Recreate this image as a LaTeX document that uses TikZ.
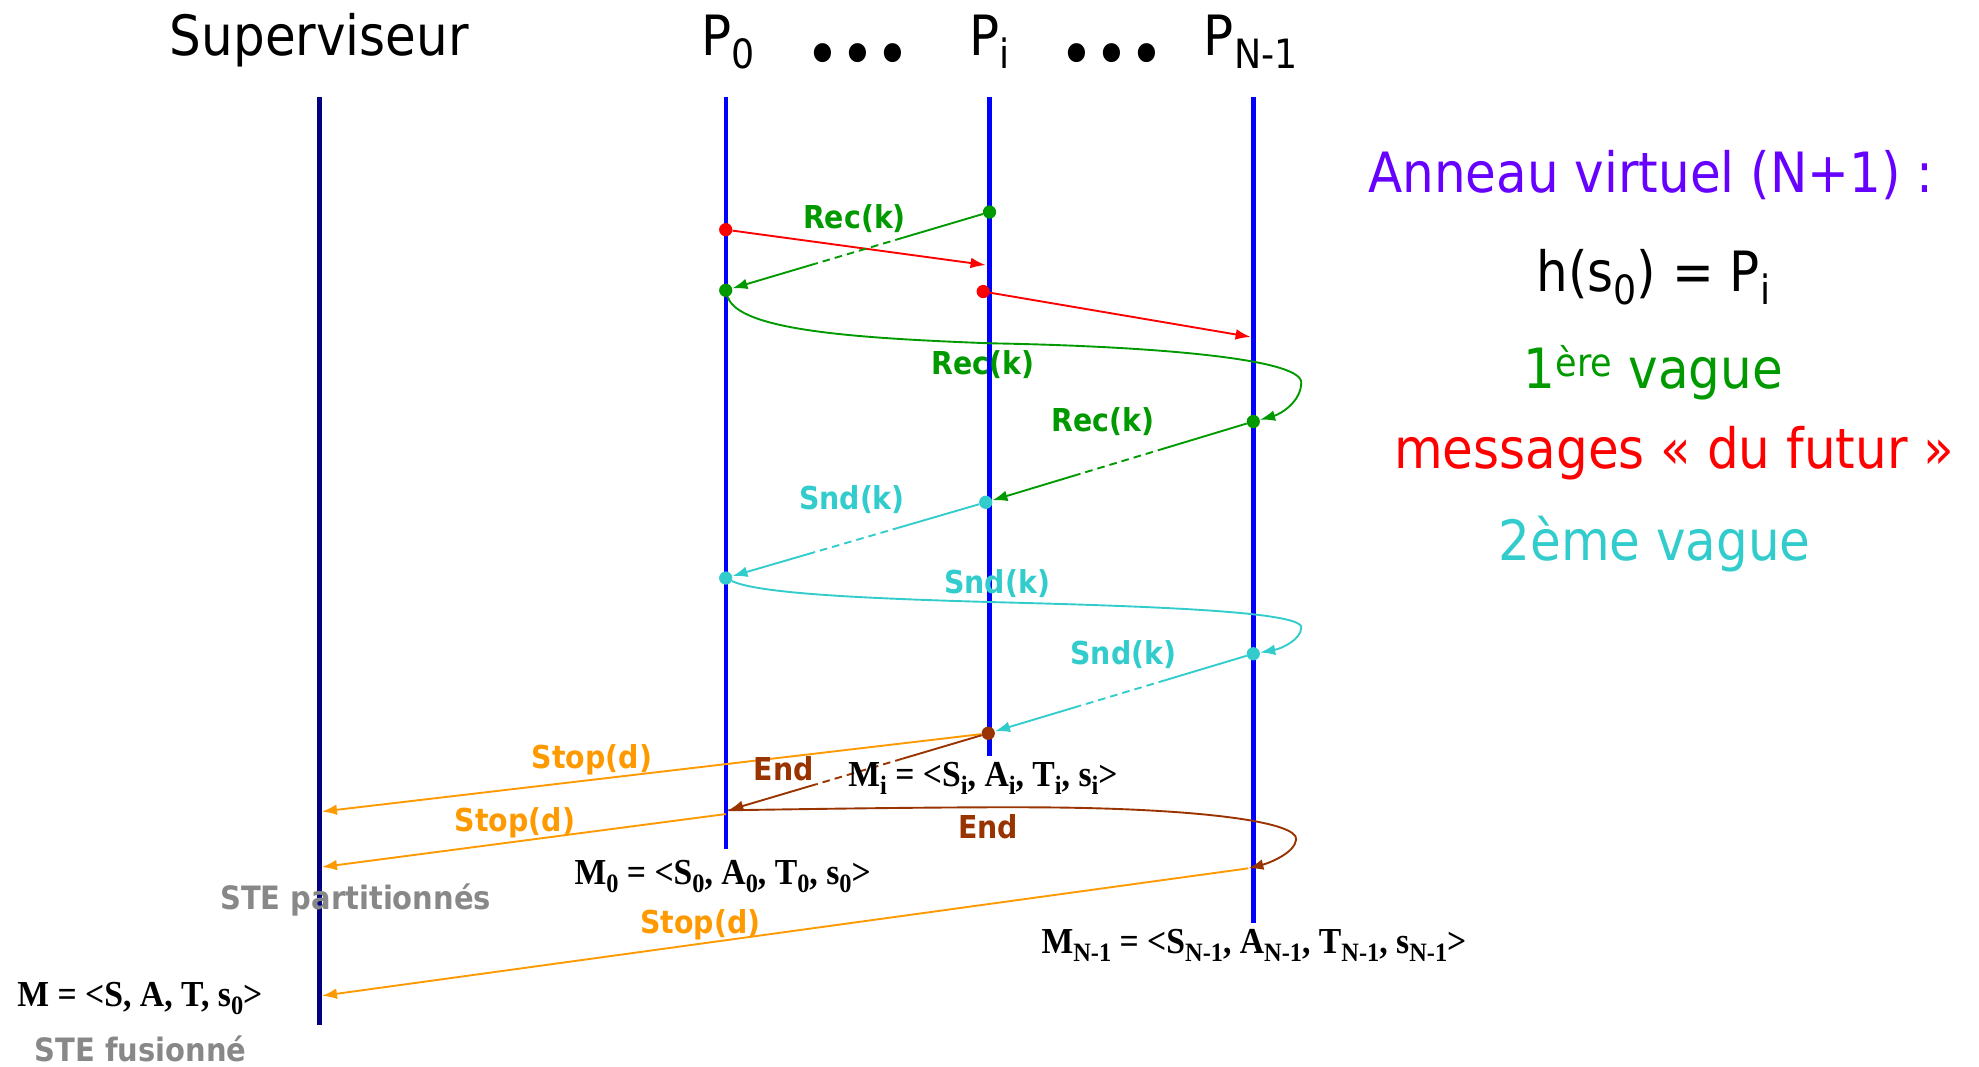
\documentclass[tikz,border=0pt]{standalone}
\usepackage{fontspec}
\setmainfont{DejaVu Sans}[FakeStretch=0.9]
\newfontfamily\serifbf{Liberation Serif}[FakeStretch=0.92]
\usetikzlibrary{arrows.meta,calc}
\definecolor{gcol}{HTML}{009900}
\definecolor{rcol}{HTML}{FF0000}
\definecolor{ccol}{HTML}{33CCCC}
\definecolor{ocol}{HTML}{FF9900}
\definecolor{bcol}{HTML}{993300}
\definecolor{pcol}{HTML}{6600FF}
\definecolor{navy}{HTML}{000080}
\definecolor{lblue}{HTML}{0000FF}
\definecolor{greytxt}{HTML}{888888}
\newcommand\tsub[1]{\raisebox{-0.24em}{\fontsize{32}{32}\selectfont #1}}
\newcommand\fsub[1]{\raisebox{-0.22em}{\fontsize{21}{21}\selectfont #1}}
\tikzset{
 life/.style={line width=3.5pt, draw=lblue},
 evdot/.style={circle, fill=#1, inner sep=0pt, minimum size=10.5pt},
 msg/.style={line width=1.5pt, draw=#1},
 arrowend/.style={-{Latex[length=12pt,width=8.5pt]}},
 lab/.style={font=\bfseries\fontsize{25}{28}\selectfont, text=#1, inner sep=0pt},
 ttl/.style={font=\fontsize{44}{50}\selectfont, inner sep=0pt, anchor=base},
 mform/.style={font=\serifbf\bfseries\fontsize{29}{32}\selectfont, inner sep=0pt, anchor=base west},
 gtxt/.style={font=\bfseries\fontsize{25.5}{30}\selectfont, text=greytxt, inner sep=0pt, anchor=base west},
 dsh/.style={dash pattern=on 6pt off 4pt},
 dotsrow/.style={font=\fontsize{52}{52}\selectfont, inner sep=0pt, anchor=center},
}
\newcommand\splitmsg[3]{%
 \draw[msg=#1] (#2) -- ($(#2)!0.33!(#3)$);
 \draw[msg=#1,dsh] ($(#2)!0.33!(#3)$) -- ($(#2)!0.66!(#3)$);
 \draw[msg=#1,arrowend] ($(#2)!0.66!(#3)$) -- (#3);}
\begin{document}
\begin{tikzpicture}[x=1pt,y=-1pt]
\useasboundingbox (0,0) rectangle (1568,845);
% titles
\node[ttl] (tsup) at (253,43.6) {Superviseur};
\node[ttl] (tp0) at (577,43.6) {P\tsub{0}};
\node[dotsrow] (dots1) at (680,48) {•••};
\node[ttl] (tpi) at (784,43.6) {P\tsub{i}};
\node[dotsrow] (dots2) at (881,48) {•••};
\node[ttl] (tpn) at (991,43.6) {P\tsub{N-1}};
% lifelines
\coordinate (suptop) at (253,77); \coordinate (supbot) at (253,812);
\coordinate (p0top) at (575,77); \coordinate (p0bot) at (575,673);
\coordinate (pitop) at (784,77); \coordinate (pibot) at (784,599);
\coordinate (pntop) at (993,77); \coordinate (pnbot) at (993,731);
\draw[life,draw=navy] (suptop) -- (supbot);
\draw[life] (p0top) -- (p0bot);
\draw[life] (pitop) -- (pibot);
\draw[life] (pntop) -- (pnbot);
% events
\node[evdot=gcol] (g1) at (784,168) {};
\node[evdot=rcol] (r1) at (575,182) {};
\coordinate (r1e) at (781,210);
\node[evdot=gcol] (g2) at (575,230) {};
\node[evdot=rcol] (r2) at (779,231) {};
\coordinate (r2e) at (991,267);
\node[evdot=gcol] (g3) at (993,334) {};
\node[evdot=ccol] (c1) at (781,398) {};
\node[evdot=ccol] (c2) at (575,458) {};
\node[evdot=ccol] (c3) at (993,518) {};
\node[evdot=bcol] (b1) at (783,581) {};
\coordinate (sup1) at (255,643);
\coordinate (p0e) at (577,642);
\coordinate (p0s) at (575,645);
\coordinate (sup2) at (255,687);
\coordinate (pne) at (989,688);
\coordinate (sup3) at (255,789);
% messages
\draw[msg=rcol,arrowend] (r1) -- (r1e);
\draw[msg=rcol,arrowend] (r2) -- (r2e);
\splitmsg{gcol}{g1}{g2}
\draw[msg=gcol,arrowend] (g2) .. controls (585,262) and (680,268) .. (784,272)
  .. controls (900,274) and (1031,283) .. (1031,303)
  .. controls (1031,318) and (1015,328) .. (g3);
\splitmsg{gcol}{g3}{c1}
\splitmsg{ccol}{c1}{c2}
\draw[msg=ccol,arrowend] (c2) .. controls (600,470) and (680,474) .. (784,477)
  .. controls (900,480) and (1031,484) .. (1031,497)
  .. controls (1031,507) and (1015,514) .. (c3);
\splitmsg{ccol}{c3}{b1}
\draw[msg=ocol,arrowend] (b1) -- (sup1);
\splitmsg{bcol}{b1}{p0e}
\draw[msg=bcol,arrowend] (p0e) .. controls (700,640) and (800,639) .. (850,640)
  .. controls (960,642) and (1028,652) .. (1027,665)
  .. controls (1026,676) and (1005,684) .. (pne);
\draw[msg=ocol,arrowend] (p0s) -- (sup2);
\draw[msg=ocol,arrowend] (pne) -- (sup3);
% labels
\node[lab=gcol] (lrec1) at (677,173) {Rec(k)};
\node[lab=gcol] (lrec2) at (779,289) {Rec(k)};
\node[lab=gcol] (lrec3) at (874,334) {Rec(k)};
\node[lab=ccol] (lsnd1) at (675,396) {Snd(k)};
\node[lab=ccol] (lsnd2) at (790,462) {Snd(k)};
\node[lab=ccol] (lsnd3) at (890,519) {Snd(k)};
\node[lab=ocol] (lstop1) at (469,602) {Stop(d)};
\node[lab=ocol] (lstop2) at (408,652) {Stop(d)};
\node[lab=ocol] (lstop3) at (555,733) {Stop(d)};
\node[lab=bcol] (lend1) at (621,609) {End};
\node[lab=bcol] (lend2) at (783,655) {End};
% formulas
\node[mform] (mi) at (672,622.8) {M\fsub{i} = <S\fsub{i}, A\fsub{i}, T\fsub{i}, s\fsub{i}>};
\node[mform] (m0) at (455,700.7) {M\fsub{0} = <S\fsub{0}, A\fsub{0}, T\fsub{0}, s\fsub{0}>};
\node[mform] (mn) at (825,755.4) {M\fsub{N-1} = <S\fsub{N-1}, A\fsub{N-1}, T\fsub{N-1}, s\fsub{N-1}>};
\node[mform] (mm) at (13.6,797.7) {M = <S, A, T, s\fsub{0}>};
\node[gtxt] (stp) at (174.4,721) {STE partitionnés};
\node[gtxt] (stf) at (27.3,841) {STE fusionné};
% right side
\node[ttl,text=pcol] (ring) at (1308,152.7) {Anneau virtuel (N+1) :};
\node[ttl] (hash) at (1310,231) {h(s\tsub{0}) = P\tsub{i}};
\node[ttl,text=gcol] (w1) at (1310,307.6) {1\textsuperscript{ère} vague};
\node[ttl,text=rcol] (fut) at (1326.5,371) {messages « du futur »};
\node[ttl,text=ccol] (w2) at (1311,443.7) {2ème vague};
\end{tikzpicture}
\end{document}
